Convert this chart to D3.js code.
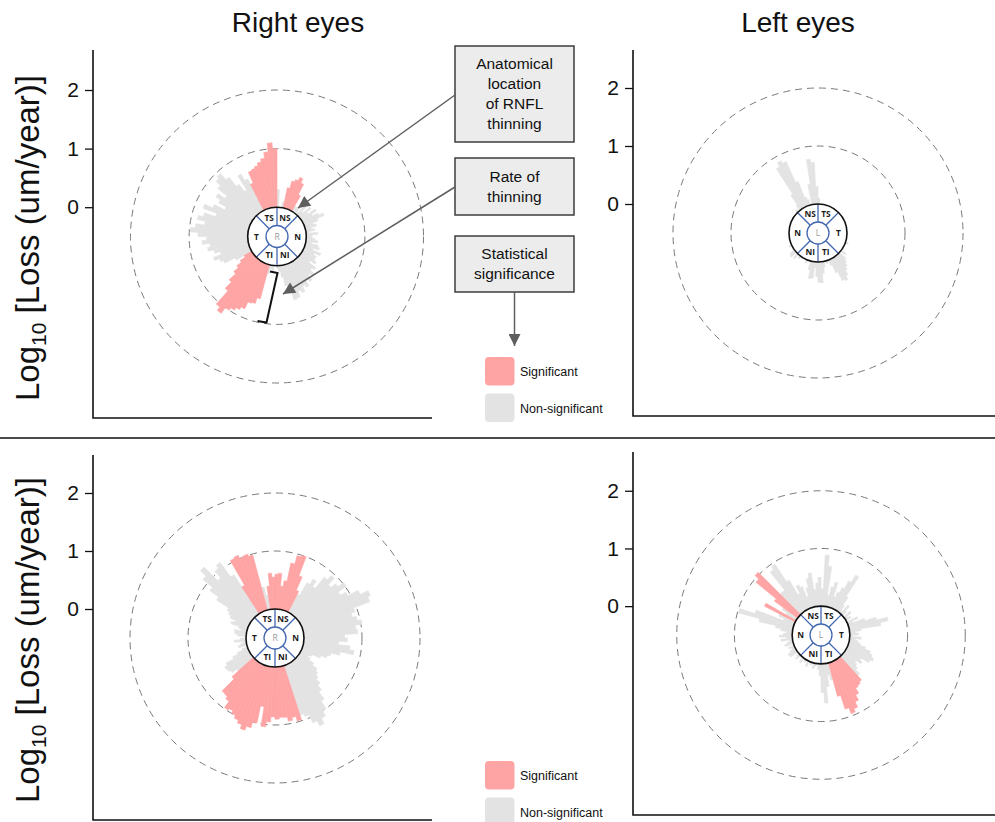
<!DOCTYPE html>
<html>
<head>
<meta charset="utf-8">
<script src="https://cdn.jsdelivr.net/npm/d3@7"></script>
<style>
  body { margin: 0; background: #fff; }
  svg { display: block; }
</style>
</head>
<body>
<svg id="chart" width="995" height="822"></svg>
<script>
// ---- data -------------------------------------------------------------
// Each loss series holds log10 thinning rates (um/year) for 3-degree sectors,
// listed clockwise from 12 o'clock. Values below 0 stay hidden under the badge.
const binDegrees = 3;

const rightTopLoss = [
  0.3, -0.2, -0.1, 0.1, 0.35, 0.48, 0.52, 0.58, 0.5, 0.3,
  0.1, 0.1, 0.15, 0.05, 0.2, 0.1, 0.25, 0.15, 0.3, 0.2,
  0.3, 0.38, 0.25, 0.15, 0.2, 0.1, 0.15, 0.05, 0.2, 0.1,
  0.1, 0.15, 0.2, 0.1, 0.22, 0.25, 0.15, 0.3, 0.2, 0.25,
  0.25, 0.3, 0.2, 0.35, 0.3, 0.4, 0.35, 0.45, 0.38, 0.5,
  0.45, 0.55, 0.5, 0.6, 0.62, 0.45, 0.35, 0.2, 0.1, 0.05,
  -0.1, 0.0, 0.1, 0.05, 0.15, 0.6, 0.7, 0.72, 0.85, 0.9,
  0.95, 1.0, 1.12, 1.05, 0.75, 0.6, 0.45, 0.35, 0.25, 0.15,
  0.3, 0.5, 0.55, 0.64, 0.5, 0.6, 0.7, 0.65, 0.78, 0.7,
  0.85, 0.98, 0.9, 0.75, 0.89, 0.8, 0.6, 0.85, 0.7, 0.5,
  0.65, 0.74, 0.6, 0.8, 0.9, 0.94, 0.8, 0.6, 0.45, 0.73,
  0.6, 0.5, 0.7, 0.72, 0.75, 0.8, 0.85, 0.95, 1.1, 1.0
];
const rightTopSignificant = [[12, 30], [195, 240], [333, 360]];

const leftTopLoss = [
  0.1, -0.2, -0.3, -0.3, -0.2, -0.3, -0.3, -0.3, -0.2, -0.3,
  -0.3, -0.3, -0.2, -0.3, -0.3, -0.3, -0.3, -0.2, -0.3, -0.3,
  -0.3, -0.3, -0.3, -0.2, -0.3, -0.3, -0.3, -0.3, -0.3, -0.2,
  -0.3, -0.3, -0.3, -0.3, -0.2, -0.3, 0.05, -0.3, -0.3, -0.3,
  -0.2, -0.3, 0.1, -0.3, 0.15, 0.2, 0.25, 0.3, 0.38, 0.45,
  0.42, 0.25, 0.1, -0.2, 0.05, -0.2, 0.1, 0.2, 0.36, 0.35,
  0.25, 0.1, 0.28, 0.3, 0.15, -0.2, -0.3, 0.05, -0.3, -0.3,
  -0.3, -0.2, 0.05, -0.3, 0.1, -0.3, 0.12, 0.1, -0.3, -0.3,
  -0.3, 0.05, -0.3, -0.3, -0.2, -0.3, -0.3, -0.3, -0.2, -0.3,
  -0.3, -0.3, -0.2, -0.3, -0.3, -0.3, -0.2, -0.3, -0.3, -0.3,
  -0.3, -0.2, -0.3, -0.3, -0.3, 0.05, -0.3, 0.1, 0.3, 0.82,
  0.9, 0.85, 0.45, 0.15, 0.1, -0.2, 0.35, 0.78, 0.72, 0.3
];
const leftTopSignificant = [];

const rightBottomLoss = [
  0.6, 0.62, 0.4, 0.5, 0.82, 0.97, 1.0, 0.65, 0.4, 0.35,
  0.6, 0.71, 0.6, 0.85, 0.95, 0.8, 0.9, 1.02, 0.85, 0.95,
  1.15, 1.3, 1.25, 0.95, 0.88, 0.95, 1.02, 0.9, 0.93, 0.7,
  0.75, 0.6, 0.8, 0.88, 0.65, 0.5, 0.45, 0.35, 0.2, 0.15,
  0.2, 0.3, 0.4, 0.45, 0.5, 0.6, 0.7, 0.85, 1.0, 1.1,
  1.2, 1.1, 0.95, 0.9, 0.98, 0.9, 0.95, 0.88, 0.87, 0.9,
  0.86, 0.95, 1.04, 0.7, 1.0, 1.1, 1.17, 1.1, 1.05, 1.0,
  0.95, 0.98, 0.85, 0.8, 0.79, 0.5, 0.35, 0.45, 0.48, 0.5,
  0.45, 0.3, 0.2, 0.1, 0.0, 0.15, 0.1, 0.05, 0.2, 0.1,
  0.0, 0.15, 0.2, 0.21, 0.1, 0.15, 0.3, 0.25, 0.35, 0.4,
  0.45, 0.7, 0.89, 1.1, 1.23, 0.9, 1.05, 1.11, 0.8, 0.55,
  1.04, 1.06, 1.0, 1.02, 0.98, 0.4, 0.25, 0.4, 0.62, 0.55
];
const rightBottomSignificant = [[0, 27], [162, 228], [327, 345], [351, 360]];

const leftBottomLoss = [
  0.3, 0.89, 0.7, 0.2, 0.35, 0.45, 0.2, 0.3, 0.4, 0.55,
  0.7, 0.3, 0.15, 0.05, 0.2, 0.1, -0.1, 0.15, 0.05, 0.1,
  -0.1, 0.2, 0.1, 0.3, 0.5, 0.69, 0.55, 0.2, 0.1, 0.15,
  0.05, 0.2, 0.1, 0.15, 0.2, 0.3, 0.4, 0.45, 0.5, 0.45,
  0.3, 0.35, 0.25, 0.3, 0.35, 0.45, 0.55, 0.58, 0.6, 0.7,
  0.8, 0.9, 0.96, 0.85, 0.6, 0.3, 0.2, 0.4, 0.68, 0.5,
  0.2, 0.1, -0.1, 0.05, 0.1, -0.2, 0.05, -0.1, 0.1, -0.2,
  0.05, -0.1, 0.1, 0.0, -0.2, 0.1, 0.05, -0.1, 0.15, 0.16,
  0.1, 0.05, 0.1, -0.1, 0.15, 0.1, 0.05, 0.2, 0.1, 0.22,
  0.15, 0.1, 0.2, 0.3, 0.6, 0.98, 0.7, 0.2, 0.3, 0.6,
  0.2, 0.3, 0.5, 0.95, 1.04, 0.5, 0.5, 0.9, 0.96, 0.6,
  0.3, 0.45, 0.4, 0.2, 0.35, 0.5, 0.59, 0.3, 0.4, 0.5
];
const leftBottomSignificant = [[138, 165], [297, 300], [306, 315]];

const tickValues = [0, 1, 2];
const columnTitles = ["Right eyes", "Left eyes"];
const legendLabels = ["Significant", "Non-significant"];
const calloutTexts = [
  ["Anatomical", "location", "of RNFL", "thinning"],
  ["Rate of", "thinning"],
  ["Statistical", "significance"]
];
// sector name and its mid-angle (degrees clockwise from 12 o'clock)
const rightSectors = [["NS", 22.5], ["N", 90], ["NI", 157.5], ["TI", 202.5], ["T", 270], ["TS", 337.5]];
const leftSectors = [["TS", 22.5], ["T", 90], ["TI", 157.5], ["NI", 202.5], ["N", 270], ["NS", 337.5]];
const sectorDividers = [0, 45, 135, 180, 225, 315];

// ---- styling ------------------------------------------------------------
const sigColor = "#ffa4a4";
const nonSigColor = "#e3e3e3";
const badgeBlue = "#4468b0";
const fontFamily = "'Liberation Sans', Arial, sans-serif";

const panels = [
  { loss: rightTopLoss, sig: rightTopSignificant, sectors: rightSectors, eye: "R",
    cx: 277, cy: 236.5, unit: 58.6, axisX: 93, axisTop: 50, axisBottom: 418, xEnd: 432 },
  { loss: leftTopLoss, sig: leftTopSignificant, sectors: leftSectors, eye: "L",
    cx: 818, cy: 233, unit: 58, axisX: 633, axisTop: 50, axisBottom: 416, xEnd: 995 },
  { loss: rightBottomLoss, sig: rightBottomSignificant, sectors: rightSectors, eye: "R",
    cx: 275, cy: 638, unit: 58, axisX: 93, axisTop: 455, axisBottom: 820, xEnd: 432 },
  { loss: leftBottomLoss, sig: leftBottomSignificant, sectors: leftSectors, eye: "L",
    cx: 821, cy: 635, unit: 57.7, axisX: 633, axisTop: 452, axisBottom: 815, xEnd: 995 }
];

const svg = d3.select("#chart");
const rad = d => d * Math.PI / 180;

// ---- defs: arrowhead ----------------------------------------------------
svg.append("defs").append("marker")
  .attr("id", "arrowhead")
  .attr("viewBox", "0 0 10 10")
  .attr("refX", 10).attr("refY", 5)
  .attr("markerUnits", "userSpaceOnUse")
  .attr("markerWidth", 15).attr("markerHeight", 12)
  .attr("orient", "auto")
  .append("path").attr("d", "M0,0 L10,5 L0,10 Z").attr("fill", "#5e5e5e");

// ---- panels ---------------------------------------------------------------
panels.forEach(p => {
  const g = svg.append("g");
  // linear scale shared by the y axis and the radial bars: -0.5 sits at the badge centre
  const y = d3.scaleLinear().domain([-0.5, 2]).range([p.cy, p.cy - 2.5 * p.unit]);
  const radius = v => Math.max(0, p.cy - y(v));

  const isSig = deg => p.sig.some(([a, b]) => deg >= a && deg < b);
  const bars = p.loss.map((v, i) => ({
    start: i * binDegrees, end: (i + 1) * binDegrees, value: v,
    significant: isSig(i * binDegrees)
  }));

  const arc = d3.arc()
    .innerRadius(0)
    .outerRadius(d => radius(d.value))
    .startAngle(d => rad(d.start))
    .endAngle(d => rad(d.end));

  // dashed reference rings at 1 and 2
  g.selectAll("circle.ring").data([1, 2]).join("circle")
    .attr("class", "ring")
    .attr("cx", p.cx).attr("cy", p.cy)
    .attr("r", d => radius(d))
    .attr("fill", "none").attr("stroke", "#7a7a7a")
    .attr("stroke-width", 1).attr("stroke-dasharray", "7,5");

  const barG = g.append("g").attr("transform", `translate(${p.cx},${p.cy})`);
  barG.selectAll("path.ns").data(bars.filter(d => !d.significant && d.value > 0)).join("path")
    .attr("class", "ns").attr("d", arc)
    .attr("fill", nonSigColor).attr("stroke", nonSigColor).attr("stroke-width", 0.6)
    .attr("stroke-linejoin", "round");
  barG.selectAll("path.sg").data(bars.filter(d => d.significant && d.value > 0)).join("path")
    .attr("class", "sg").attr("d", arc)
    .attr("fill", sigColor).attr("stroke", sigColor).attr("stroke-width", 0.6)
    .attr("stroke-linejoin", "round");

  // central sector badge
  const rOuter = radius(0);
  const rInner = 11;
  const badge = g.append("g").attr("transform", `translate(${p.cx},${p.cy})`);
  badge.append("circle").attr("r", rOuter).attr("fill", "#fff");
  badge.selectAll("line").data(sectorDividers).join("line")
    .attr("x1", d => rInner * Math.sin(rad(d))).attr("y1", d => -rInner * Math.cos(rad(d)))
    .attr("x2", d => rOuter * Math.sin(rad(d))).attr("y2", d => -rOuter * Math.cos(rad(d)))
    .attr("stroke", badgeBlue).attr("stroke-width", 1.3);
  badge.append("circle").attr("r", rInner).attr("fill", "none")
    .attr("stroke", badgeBlue).attr("stroke-width", 1.3);
  badge.append("circle").attr("r", rOuter).attr("fill", "none")
    .attr("stroke", "#111").attr("stroke-width", 1.6);
  badge.selectAll("text.sector").data(p.sectors).join("text")
    .attr("class", "sector")
    .attr("x", d => 20.5 * Math.sin(rad(d[1])))
    .attr("y", d => -20.5 * Math.cos(rad(d[1])))
    .attr("dy", "0.36em")
    .attr("text-anchor", "middle")
    .attr("font-family", "'Open Sans', sans-serif")
    .attr("font-weight", 700)
    .attr("font-size", 8.3)
    .attr("fill", "#1a1a1a")
    .text(d => d[0]);
  badge.append("text").attr("dy", "0.36em").attr("text-anchor", "middle")
    .attr("font-family", "'Open Sans', sans-serif").attr("font-size", 8.5)
    .attr("fill", "#9a9a9a").text(p.eye);

  // y axis with ticks at 0, 1, 2
  const axis = g.append("g").attr("transform", `translate(${p.axisX},0)`)
    .call(d3.axisLeft(y).tickValues(tickValues).tickSize(8).tickPadding(6).tickFormat(d3.format("d")));
  axis.select(".domain").remove();
  axis.selectAll(".tick line").attr("stroke", "#111").attr("stroke-width", 1.3);
  axis.selectAll(".tick text").attr("font-family", fontFamily).attr("font-size", 21).attr("fill", "#111");

  // axis frame
  g.append("path")
    .attr("d", `M${p.axisX},${p.axisTop}V${p.axisBottom}H${p.xEnd}`)
    .attr("fill", "none").attr("stroke", "#111").attr("stroke-width", 1.6);
});

// ---- titles ---------------------------------------------------------------
svg.selectAll("text.col-title").data(columnTitles).join("text")
  .attr("class", "col-title")
  .attr("x", (d, i) => i === 0 ? 298 : 798).attr("y", 32)
  .attr("text-anchor", "middle")
  .attr("font-family", fontFamily).attr("font-size", 28).attr("fill", "#111")
  .text(d => d);

[238, 640].forEach(cy => {
  const t = svg.append("text")
    .attr("transform", `translate(39,${cy}) rotate(-90)`)
    .attr("text-anchor", "middle")
    .attr("font-family", fontFamily).attr("font-size", 33).attr("fill", "#111");
  t.append("tspan").text("Log");
  t.append("tspan").attr("font-size", 21).attr("dy", 7).text("10");
  t.append("tspan").attr("dy", -7).text(" [Loss (um/year)]");
});

// row separator
svg.append("line").attr("x1", 0).attr("x2", 995).attr("y1", 438).attr("y2", 438)
  .attr("stroke", "#111").attr("stroke-width", 1.6);

// ---- callouts ---------------------------------------------------------------
const boxes = [
  { x: 455, y: 46, w: 119, h: 96 },
  { x: 455, y: 158, w: 119, h: 57 },
  { x: 455, y: 236, w: 119, h: 56 }
];
boxes.forEach((b, i) => {
  svg.append("rect").attr("x", b.x).attr("y", b.y).attr("width", b.w).attr("height", b.h)
    .attr("fill", "#ececec").attr("stroke", "#3d3d3d").attr("stroke-width", 1.5);
  const lines = calloutTexts[i];
  const lh = 20;
  const top = b.y + b.h / 2 - (lines.length - 1) * lh / 2;
  svg.selectAll(null).data(lines).join("text")
    .attr("x", b.x + b.w / 2).attr("y", (d, k) => top + k * lh)
    .attr("dy", "0.35em").attr("text-anchor", "middle")
    .attr("font-family", fontFamily).attr("font-size", 15.5).attr("fill", "#111")
    .text(d => d);
});

const arrows = [
  [[455, 95], [298, 208]],
  [[455, 187], [283, 294]],
  [[514.5, 292], [514.5, 346]]
];
svg.selectAll("line.arrow").data(arrows).join("line")
  .attr("class", "arrow")
  .attr("x1", d => d[0][0]).attr("y1", d => d[0][1])
  .attr("x2", d => d[1][0]).attr("y2", d => d[1][1])
  .attr("stroke", "#5e5e5e").attr("stroke-width", 1.5)
  .attr("marker-end", "url(#arrowhead)");

// bracket marking the length of one bar
svg.append("path")
  .attr("d", "M270,271.5 L277.5,273 L266.5,322.5 L257.5,321")
  .attr("fill", "none").attr("stroke", "#111").attr("stroke-width", 2);

// ---- legends ----------------------------------------------------------------
[357, 761].forEach(y0 => {
  const lg = svg.append("g").attr("transform", `translate(485,${y0})`);
  lg.selectAll("rect").data([sigColor, nonSigColor]).join("rect")
    .attr("x", 0).attr("y", (d, i) => i * 36.5)
    .attr("width", 29.5).attr("height", 28.5).attr("rx", 4)
    .attr("fill", d => d);
  lg.selectAll("text").data(legendLabels).join("text")
    .attr("x", 35).attr("y", (d, i) => i * 36.5 + 15)
    .attr("dy", "0.35em")
    .attr("font-family", fontFamily).attr("font-size", 12.5).attr("fill", "#111")
    .text(d => d);
});
</script>
</body>
</html>
